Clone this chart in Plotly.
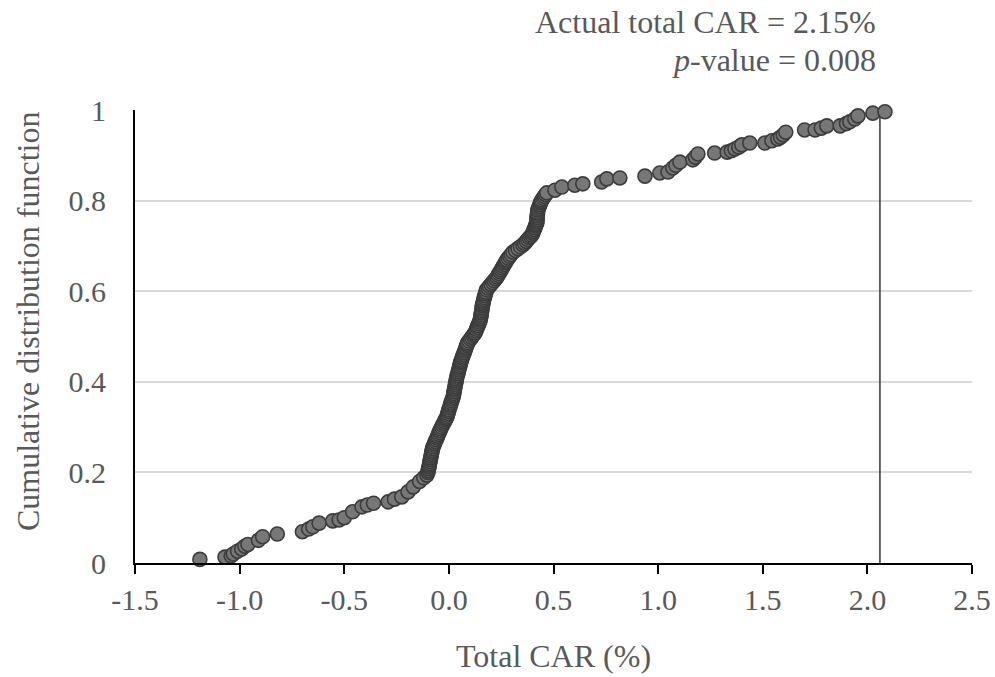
import plotly.graph_objects as go

lower_x = [
    -1.19, -1.07, -1.04, -1.03, -1.01, -0.99, -0.975, -0.96, -0.91, -0.89, -0.82,
    -0.70, -0.67, -0.65, -0.62, -0.555, -0.525, -0.50, -0.46, -0.415, -0.39, -0.36,
    -0.29, -0.26, -0.225, -0.195, -0.17, -0.14, -0.12, -0.105,
]
lower_y = [
    0.008, 0.013, 0.016, 0.020, 0.026, 0.031, 0.037, 0.041, 0.050, 0.058, 0.064,
    0.069, 0.075, 0.080, 0.088, 0.093, 0.095, 0.100, 0.113, 0.124, 0.128, 0.132,
    0.135, 0.141, 0.146, 0.157, 0.168, 0.180, 0.188, 0.194,
]
middle_x = [
    -0.100, -0.0985, -0.097, -0.095, -0.0935, -0.092, -0.090, -0.0885, -0.087, -0.085, -0.0835, -0.082, -0.080, -0.078, -0.076,
    -0.072, -0.068, -0.065, -0.061, -0.057, -0.054, -0.050, -0.046, -0.043, -0.039, -0.035,
    -0.030, -0.026, -0.021, -0.017, -0.013, -0.010,
    -0.007, -0.005, -0.002, 0.000, 0.003, 0.006, 0.008, 0.011, 0.014, 0.017, 0.020,
    0.022, 0.023, 0.025, 0.026, 0.028, 0.030, 0.031, 0.033, 0.035, 0.036, 0.038,
    0.040, 0.043, 0.045, 0.047, 0.049, 0.052, 0.054, 0.056, 0.058, 0.060,
    0.063, 0.066, 0.070, 0.073, 0.076, 0.079, 0.082, 0.085, 0.088, 0.090,
    0.096, 0.103, 0.109, 0.115, 0.120, 0.125,
    0.129, 0.132, 0.136, 0.139, 0.143, 0.146, 0.150,
    0.151, 0.153, 0.154, 0.155, 0.157, 0.158, 0.159, 0.160, 0.162, 0.163,
    0.165, 0.167, 0.170, 0.172, 0.174, 0.177, 0.180,
    0.187, 0.194, 0.201, 0.209, 0.216, 0.223, 0.230,
    0.235, 0.240, 0.245, 0.250, 0.255, 0.260, 0.265, 0.270, 0.274, 0.277,
    0.284, 0.291, 0.298, 0.306,
    0.318, 0.330, 0.342, 0.354,
    0.362, 0.370, 0.377, 0.384, 0.391, 0.397,
    0.401, 0.404, 0.408, 0.411, 0.414, 0.417, 0.420,
    0.421, 0.421, 0.422, 0.422, 0.423, 0.424, 0.425,
    0.428, 0.432, 0.435, 0.438, 0.441, 0.444,
    0.450, 0.456, 0.462, 0.468,
]
middle_y = [
    0.200, 0.204, 0.208, 0.212, 0.216, 0.220, 0.224, 0.228, 0.232, 0.236, 0.240, 0.244, 0.248, 0.252, 0.256,
    0.260, 0.264, 0.268, 0.272, 0.276, 0.280, 0.284, 0.288, 0.292, 0.296, 0.300,
    0.304, 0.308, 0.312, 0.316, 0.319, 0.322,
    0.326, 0.330, 0.334, 0.338, 0.342, 0.346, 0.350, 0.354, 0.358, 0.362, 0.366,
    0.370, 0.374, 0.378, 0.382, 0.386, 0.390, 0.394, 0.398, 0.402, 0.406, 0.410,
    0.414, 0.418, 0.422, 0.426, 0.430, 0.434, 0.438, 0.442, 0.445, 0.448,
    0.452, 0.456, 0.460, 0.464, 0.468, 0.472, 0.476, 0.480, 0.483, 0.486,
    0.490, 0.494, 0.498, 0.502, 0.505, 0.508,
    0.512, 0.516, 0.520, 0.524, 0.528, 0.532, 0.536,
    0.540, 0.544, 0.548, 0.552, 0.556, 0.560, 0.564, 0.568, 0.571, 0.574,
    0.578, 0.582, 0.586, 0.590, 0.594, 0.598, 0.603,
    0.607, 0.611, 0.615, 0.619, 0.623, 0.627, 0.631,
    0.635, 0.639, 0.643, 0.647, 0.651, 0.655, 0.659, 0.663, 0.666, 0.669,
    0.673, 0.677, 0.681, 0.686,
    0.690, 0.694, 0.698, 0.702,
    0.706, 0.710, 0.714, 0.718, 0.721, 0.724,
    0.728, 0.732, 0.736, 0.740, 0.744, 0.747, 0.750,
    0.754, 0.758, 0.762, 0.766, 0.770, 0.774, 0.779,
    0.783, 0.787, 0.791, 0.795, 0.798, 0.801,
    0.805, 0.809, 0.813, 0.817,
]
upper_x = [
    0.507, 0.540, 0.602, 0.640, 0.730, 0.755, 0.817, 0.937, 1.008, 1.047,
    1.070, 1.085, 1.104, 1.166, 1.178, 1.190, 1.270, 1.330, 1.350, 1.367,
    1.385, 1.400, 1.438, 1.510, 1.544, 1.572, 1.585, 1.598, 1.610, 1.700,
    1.750, 1.780, 1.806, 1.870, 1.900, 1.916, 1.940, 1.955, 2.026, 2.084,
]
upper_y = [
    0.823, 0.830, 0.834, 0.837, 0.841, 0.848, 0.850, 0.854, 0.861, 0.863,
    0.872, 0.878, 0.885, 0.890, 0.896, 0.903, 0.905, 0.907, 0.910, 0.914,
    0.918, 0.923, 0.927, 0.927, 0.932, 0.936, 0.940, 0.945, 0.951, 0.956,
    0.956, 0.960, 0.965, 0.965, 0.970, 0.974, 0.980, 0.987, 0.993, 0.996,
]

actual_line_x = [2.06, 2.06]
actual_line_y = [0, 1]

x_ticks = [-1.5, -1.0, -0.5, 0.0, 0.5, 1.0, 1.5, 2.0, 2.5]
x_tick_text = ["-1.5", "-1.0", "-0.5", "0.0", "0.5", "1.0", "1.5", "2.0", "2.5"]
y_ticks = [0, 0.2, 0.4, 0.6, 0.8, 1]
y_tick_text = ["0", "0.2", "0.4", "0.6", "0.8", "1"]

annot_line1 = "Actual total CAR = 2.15%"
annot_line2 = "<i>p</i>-value = 0.008"
y_title = "Cumulative distribution function"
x_title = "Total CAR (%)"

car_x = lower_x + middle_x + upper_x
cdf_y = lower_y + middle_y + upper_y

FONT = "Liberation Serif"
TXT = "#595959"

fig = go.Figure()
fig.add_trace(go.Scatter(
    x=actual_line_x, y=actual_line_y, mode="lines",
    line=dict(color="#404040", width=1.6), hoverinfo="skip", showlegend=False,
))
fig.add_trace(go.Scatter(
    x=car_x, y=cdf_y, mode="markers",
    marker=dict(size=14, color="#777777", line=dict(color="#3c3c3c", width=1.6)),
    cliponaxis=False, showlegend=False,
))

fig.update_layout(
    width=995, height=677,
    margin=dict(l=135, r=23, t=110, b=114, autoexpand=False),
    paper_bgcolor="white", plot_bgcolor="white",
    font=dict(family=FONT, color=TXT, size=30),
    xaxis=dict(
        range=[-1.5, 2.5], tickvals=x_ticks, ticktext=x_tick_text,
        showgrid=False, zeroline=False, automargin=False,
        showline=True, linecolor="black", linewidth=2,
        ticks="outside", ticklen=9, tickwidth=2, tickcolor="black",
        tickfont=dict(family=FONT, color=TXT, size=30),
        title=dict(text=x_title, font=dict(family=FONT, color=TXT, size=32), standoff=30),
    ),
    yaxis=dict(
        range=[0, 1], tickvals=y_ticks, ticktext=y_tick_text,
        showgrid=True, gridcolor="#d9d9d9", gridwidth=1.5, zeroline=False, automargin=False,
        showline=True, linecolor="black", linewidth=2,
        ticks="", ticklabelstandoff=21,
        tickfont=dict(family=FONT, color=TXT, size=30),
    ),
    annotations=[
        dict(text=y_title, xref="paper", yref="paper", x=(28 - 135) / 837, y=(563 - 321) / 453,
             xanchor="center", yanchor="middle", textangle=-90, showarrow=False,
             font=dict(family=FONT, color=TXT, size=32)),
        dict(text=annot_line1, xref="paper", yref="paper", x=(878 - 135) / 837, y=(563 - 22) / 453,
             xanchor="right", yanchor="middle", showarrow=False,
             font=dict(family=FONT, color=TXT, size=32)),
        dict(text=annot_line2, xref="paper", yref="paper", x=(878 - 135) / 837, y=(563 - 60) / 453,
             xanchor="right", yanchor="middle", showarrow=False,
             font=dict(family=FONT, color=TXT, size=32)),
    ],
)

fig.write_html("out.html")
